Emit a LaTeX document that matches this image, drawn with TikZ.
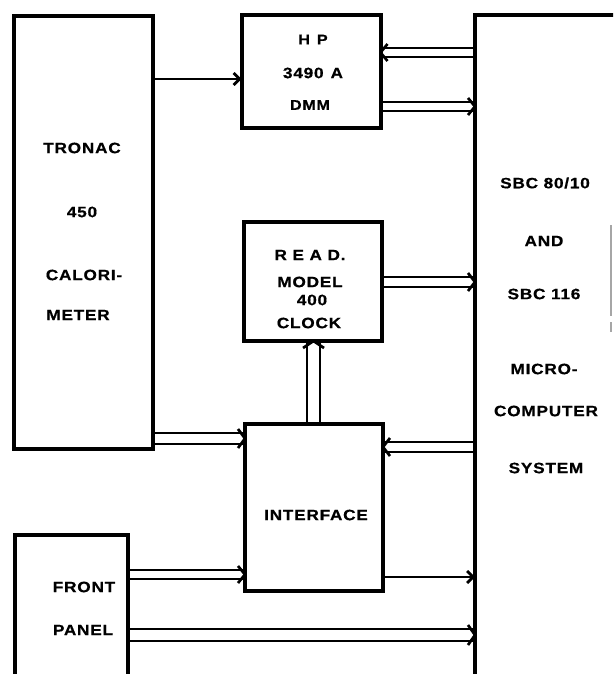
\documentclass[tikz,border=0pt]{standalone}
\usepackage{fontspec}
\setmainfont{Liberation Sans}[FakeStretch=1.15, LetterSpace=5, FakeBold=0.6]
\usetikzlibrary{arrows.meta,calc}
\newcommand\hdbl[5]{%
  \draw[conn] (#1|-0,#3) -- (#2|-0,#3);
  \draw[conn] (#1|-0,#4) -- (#2|-0,#4);
  \draw[conn] ($(#2|-0,#3)+(#5,-4)$) -- ($(#2|-0,#3)!0.5!(#2|-0,#4)$) -- ($(#2|-0,#4)+(#5,4)$);
}
\begin{document}
\begin{tikzpicture}[x=1pt,y=-1pt,
  box/.style={draw,line width=4pt,rectangle,inner sep=0pt,outer sep=0pt},
  conn/.style={line width=2.7pt,line join=round},
  arr/.style={conn,-{Straight Barb[length=6pt,width=12pt,line width=2.7pt]}},
  lbl/.style={font=\bfseries\fontsize{15}{17}\selectfont,inner sep=0pt},
  lbls/.style={font=\bfseries\fontsize{14}{16}\selectfont,inner sep=0pt},
  faint/.style={draw=black!35,line width=1.2pt}]
\useasboundingbox (0,0) rectangle (613,674);
\clip (0,0) rectangle (613,674);
% boxes
\node[box,minimum width=139pt,minimum height=433pt] (tronac) at (83.5,232.5) {};
\node[box,minimum width=139pt,minimum height=113pt] (hp) at (311,71.5) {};
\node[box,minimum width=138pt,minimum height=119pt] (read) at (313,281.5) {};
\node[box,minimum width=138pt,minimum height=167pt] (iface) at (314,507.5) {};
\node[box,minimum width=113pt,minimum height=165pt] (front) at (71.5,617.5) {};
\node[box,minimum width=224pt,minimum height=704pt] (sbc) at (587,367) {};
\draw[faint] (611,225) -- (611,316);
\draw[faint] (611,322) -- (611,332);
% labels
\node[lbl] (t1) at (82,148) {TRONAC};
\node[lbl] (t2) at (82,212) {450};
\node[lbl] (t3) at (84,275) {CALORI-};
\node[lbl] (t4) at (78,315) {METER};
\node[lbls] (h1) at (313,39.5) {H\hspace{7pt}P};
\node[lbl] (h2) at (313,73) {3490\hspace{7pt}A};
\node[lbls] (h3) at (310,105) {DMM};
\node[lbl] (r1) at (310,255) {R E A D.};
\node[lbl] (r2) at (310,282) {MODEL};
\node[lbl] (r3) at (312,300) {400};
\node[lbl] (r4) at (309,323) {CLOCK};
\node[lbl] (i1) at (316,515) {INTERFACE};
\node[lbl] (f1) at (84,587) {FRONT};
\node[lbl] (f2) at (83,630) {PANEL};
\node[lbl] (s1) at (545,183) {SBC 80/10};
\node[lbl] (s2) at (544,241) {AND};
\node[lbl] (s3) at (544,294) {SBC 116};
\node[lbl] (s4) at (544,369) {MICRO-};
\node[lbl] (s5) at (546,411) {COMPUTER};
\node[lbl] (s6) at (546,468) {SYSTEM};
% connectors
\draw[arr] (tronac.east|-0,79) -- (hp.west|-0,79);
\hdbl{sbc.west}{hp.east}{48}{57}{7}
\hdbl{hp.east}{sbc.west}{102}{111}{-7}
\hdbl{read.east}{sbc.west}{277}{287}{-7}
\hdbl{tronac.east}{iface.west}{433}{444}{-7}
\hdbl{sbc.west}{iface.east}{442}{452}{7}
\hdbl{front.east}{iface.west}{570}{579}{-7}
\draw[arr] (iface.east|-0,577) -- (sbc.west|-0,577);
\hdbl{front.east}{sbc.west}{629}{641}{-7}
% vertical double iface -> read
\draw[conn] (iface.north-|307,0) -- (read.south-|307,0);
\draw[conn] (iface.north-|320,0) -- (read.south-|320,0);
\draw[conn] ($(read.south-|307,0)+(-4,7)$) -- ($(read.south-|307,0)!0.5!(read.south-|320,0)$) -- ($(read.south-|320,0)+(4,7)$);
\end{tikzpicture}
\end{document}
